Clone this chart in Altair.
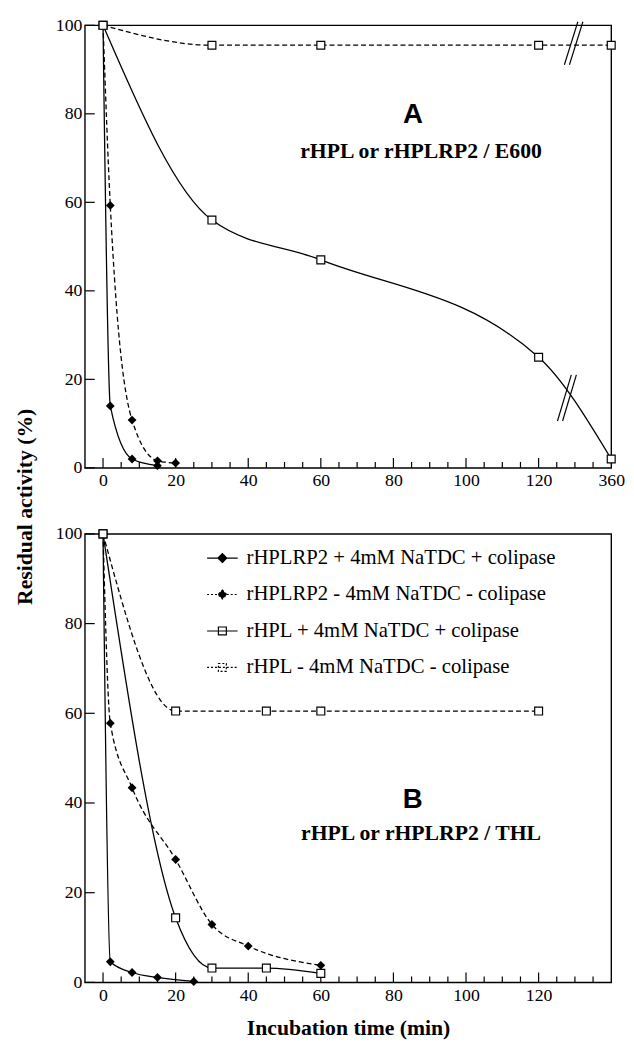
import altair as alt
import pandas as pd

# ---------------- data ----------------
SERIES = [
    "rHPLRP2 + 4mM NaTDC + colipase",
    "rHPLRP2 - 4mM NaTDC - colipase",
    "rHPL + 4mM NaTDC + colipase",
    "rHPL - 4mM NaTDC - colipase",
]
MARKERS = ["diamond", "diamond", "square", "square"]
DASHED = [False, True, False, True]

# Panel A : rHPL or rHPLRP2 / E600 (360 min drawn after an axis break)
a_rp2_plus_t = [0, 2, 8, 15]
a_rp2_plus_v = [100, 14, 2, 0.5]
a_rp2_minus_t = [0, 2, 8, 15, 20]
a_rp2_minus_v = [100, 59.3, 10.8, 1.6, 1.1]
a_hpl_plus_t = [0, 30, 60, 120, 360]
a_hpl_plus_v = [100, 56, 47, 25, 2]
a_hpl_minus_t = [0, 30, 60, 120, 360]
a_hpl_minus_v = [100, 95.5, 95.5, 95.5, 95.5]

# Panel B : rHPL or rHPLRP2 / THL
b_rp2_plus_t = [0, 2, 8, 15, 25]
b_rp2_plus_v = [100, 4.6, 2.2, 1.1, 0.2]
b_rp2_minus_t = [0, 2, 8, 20, 30, 40, 60]
b_rp2_minus_v = [100, 57.8, 43.4, 27.4, 12.9, 8.1, 3.8]
b_hpl_plus_t = [0, 20, 30, 45, 60]
b_hpl_plus_v = [100, 14.4, 3.2, 3.2, 2.0]
b_hpl_minus_t = [0, 20, 45, 60, 120]
b_hpl_minus_v = [100, 60.5, 60.5, 60.5, 60.5]

# axis break: times beyond 120 min are drawn at position 140 (labelled 360)
break_after = 120
break_pos = 140
a_xlabel_values = [0, 20, 40, 60, 80, 100, 120, 140]
b_xlabel_values = [0, 20, 40, 60, 80, 100, 120]
x_major_ticks = [0, 20, 40, 60, 80, 100, 120]
x_minor_ticks = [v for v in range(5, 140, 5) if v % 20]
ytick_values = [0, 20, 40, 60, 80, 100]

# break marks "//" (data units of panel A)
brk_x1 = [127.1, 128.5, 125.2, 126.6]
brk_x2 = [130.8, 132.2, 129.0, 130.4]
brk_y1 = [91.1, 91.1, 10.6, 10.6]
brk_y2 = [100.8, 100.8, 21.0, 21.0]

# panel annotations
letters = ["A", "B"]
letter_x = [85.4, 85.3]
letter_y = [79.6, 40.7]
subtitles = ["rHPL or rHPLRP2 / E600", "rHPL or rHPLRP2 / THL"]
subtitle_x = [87.6, 87.6]
subtitle_y = [71.5, 33.2]

# ---------------- styling ----------------
SERIF = "Liberation Serif"
SANS = "Liberation Sans"
W = 534
HA = 449
HB = 455
XDOM = [-5, 140]
YDOM = [0, 100]
MAJOR = 10   # tick length, px
MINOR = 6

legend_paths = [
    "M-1,0L1,0M0,-0.29L0.29,0L0,0.29L-0.29,0Z",
    "M-1,0L1,0M0,-0.29L0.29,0L0,0.29L-0.29,0Z",
    "M-1,0L1,0M-0.26,-0.26L0.26,-0.26L0.26,0.26L-0.26,0.26Z",
    "M-1,0L1,0M-0.26,-0.26L0.26,-0.26L0.26,0.26L-0.26,0.26Z",
]
legend_fills = ["black", "black", "white", "white"]
legend_dashes = [[1, 0], [2, 2], [1, 0], [2, 2]]


def build_df(series_data):
    rows = []
    for name, marker, dashed, ts, vs in series_data:
        for t, v in zip(ts, vs):
            rows.append(dict(series=name, marker=marker, dashed=int(dashed), t=t,
                             pos=(break_pos if t > break_after else t), v=v))
    return pd.DataFrame(rows)


a_df = build_df([
    (SERIES[0], MARKERS[0], DASHED[0], a_rp2_plus_t, a_rp2_plus_v),
    (SERIES[1], MARKERS[1], DASHED[1], a_rp2_minus_t, a_rp2_minus_v),
    (SERIES[2], MARKERS[2], DASHED[2], a_hpl_plus_t, a_hpl_plus_v),
    (SERIES[3], MARKERS[3], DASHED[3], a_hpl_minus_t, a_hpl_minus_v),
])
b_df = build_df([
    (SERIES[0], MARKERS[0], DASHED[0], b_rp2_plus_t, b_rp2_plus_v),
    (SERIES[1], MARKERS[1], DASHED[1], b_rp2_minus_t, b_rp2_minus_v),
    (SERIES[2], MARKERS[2], DASHED[2], b_hpl_plus_t, b_hpl_plus_v),
    (SERIES[3], MARKERS[3], DASHED[3], b_hpl_minus_t, b_hpl_minus_v),
])


def xs():
    return alt.Scale(domain=XDOM, nice=False, zero=False)


def ys():
    return alt.Scale(domain=YDOM, nice=False)


def x_label_axis(values, label_expr, title):
    kw = dict(orient="bottom", values=values, ticks=False, domain=False, grid=False,
              labelFont=SERIF, labelFontSize=18, labelColor="black", labelPadding=4,
              labelOverlap=False, labelFlush=False)
    if label_expr:
        kw["labelExpr"] = label_expr
    if title:
        kw.update(title=title, titleFont=SERIF, titleFontSize=22, titleFontWeight="bold",
                  titleColor="black", titlePadding=14)
    else:
        kw["title"] = None
    return alt.Axis(**kw)


def y_label_axis(title):
    kw = dict(orient="left", values=ytick_values, ticks=False, domain=False, grid=False,
              labelFont=SERIF, labelFontSize=18, labelColor="black", labelPadding=3)
    if title:
        kw.update(title=title, titleFont=SERIF, titleFontSize=22, titleFontWeight="bold",
                  titleColor="black", titleX=-61, titleY=488, titleAlign="center",
                  titleBaseline="middle")
    else:
        kw["title"] = None
    return alt.Axis(**kw)


def panel(df, h, xvals, xexpr, xtitle, ytitle, idx, extra_fn):
    # every layer carries the same explicit axes, so they merge into one pair
    XA = x_label_axis(xvals, xexpr, xtitle)
    YA = y_label_axis(ytitle)

    def X(field):
        return alt.X(field, scale=xs(), axis=XA)

    def Y(field):
        return alt.Y(field, scale=ys(), axis=YA)

    base = alt.Chart(df)
    solid = base.transform_filter("datum.dashed == 0").mark_line(
        color="black", strokeWidth=1.3, interpolate="monotone").encode(
        x=X("pos:Q"), y=Y("v:Q"), detail="series:N")
    dashed = base.transform_filter("datum.dashed == 1").mark_line(
        color="black", strokeWidth=1.3, strokeDash=[5, 3], interpolate="monotone").encode(
        x=X("pos:Q"), y=Y("v:Q"), detail="series:N")

    # inward tick marks, expressed in data units so they go through the scales
    ypx = (YDOM[1] - YDOM[0]) / h
    xpx = (XDOM[1] - XDOM[0]) / W
    xt = pd.DataFrame({
        "tick": x_major_ticks + x_minor_ticks,
        "y0": [YDOM[0]] * (len(x_major_ticks) + len(x_minor_ticks)),
        "y1": [YDOM[0] + MAJOR * ypx] * len(x_major_ticks)
              + [YDOM[0] + MINOR * ypx] * len(x_minor_ticks),
    })
    yt = pd.DataFrame({
        "tick": ytick_values,
        "x0": [XDOM[0]] * len(ytick_values),
        "x1": [XDOM[0] + MAJOR * xpx] * len(ytick_values),
    })
    xtk = alt.Chart(xt).mark_rule(color="black", strokeWidth=1.2).encode(
        x=X("tick:Q"), y=Y("y0:Q"), y2="y1:Q")
    ytk = alt.Chart(yt).mark_rule(color="black", strokeWidth=1.2).encode(
        y=Y("tick:Q"), x=X("x0:Q"), x2="x1:Q")

    dia = base.transform_filter("datum.marker == 'diamond'").mark_point(
        shape="diamond", filled=True, color="black", size=80, opacity=1
    ).encode(x=X("pos:Q"), y=Y("v:Q"))
    sq = base.transform_filter("datum.marker == 'square'").mark_point(
        shape="square", filled=True, fill="white", stroke="black", strokeWidth=1.2,
        size=64, opacity=1
    ).encode(x=X("pos:Q"), y=Y("v:Q"))
    ann = pd.DataFrame({"x": [letter_x[idx]], "y": [letter_y[idx]], "text": [letters[idx]]})
    sub = pd.DataFrame({"x": [subtitle_x[idx]], "y": [subtitle_y[idx]], "text": [subtitles[idx]]})
    letter = alt.Chart(ann).mark_text(font=SANS, fontSize=28, fontWeight="bold",
                                      color="black", baseline="middle").encode(
        x=X("x:Q"), y=Y("y:Q"), text="text:N")
    subt = alt.Chart(sub).mark_text(font=SERIF, fontSize=22, fontWeight="bold",
                                    color="black", baseline="middle").encode(
        x=X("x:Q"), y=Y("y:Q"), text="text:N")
    layers = [solid, dashed, xtk, ytk, dia, sq, letter, subt] + extra_fn(X, Y)
    return alt.layer(*layers).properties(width=W, height=h)


def breaks_layer(X, Y):
    brk_df = pd.DataFrame({"x1": brk_x1, "x2": brk_x2, "y1": brk_y1, "y2": brk_y2})
    return [alt.Chart(brk_df).mark_rule(color="black", strokeWidth=1.2).encode(
        x=X("x1:Q"), x2="x2:Q", y=Y("y1:Q"), y2="y2:Q")]


leg = alt.Legend(orient="none", legendX=123, legendY=8, title=None, symbolSize=961,
                 symbolStrokeWidth=1.2, symbolOpacity=1,
                 labelFont=SERIF, labelFontSize=21, labelColor="black", labelOffset=8,
                 rowPadding=10, padding=0, labelLimit=500)


def legend_layer(X, Y):
    return [alt.Chart(b_df).mark_point(
        filled=True, opacity=0, stroke="black", strokeWidth=1.2
    ).encode(
        x=X("pos:Q"), y=Y("v:Q"),
        shape=alt.Shape("series:N", scale=alt.Scale(domain=SERIES, range=legend_paths),
                        legend=leg),
        fill=alt.Fill("series:N", scale=alt.Scale(domain=SERIES, range=legend_fills),
                      legend=leg),
        strokeDash=alt.StrokeDash("series:N",
                                  scale=alt.Scale(domain=SERIES, range=legend_dashes),
                                  legend=leg),
    )]


panelA = panel(a_df, HA, a_xlabel_values, "datum.value == 140 ? '360' : datum.label",
               None, "Residual activity (%)", 0, breaks_layer)
panelB = panel(b_df, HB, b_xlabel_values, None, "Incubation time (min)", None, 1,
               legend_layer)

chart = alt.vconcat(panelA, panelB, spacing=67, bounds="flush").resolve_legend(
    shape="independent", fill="independent", strokeDash="independent"
).properties(
    padding={"left": 5, "top": 0, "right": 0, "bottom": 0}
).configure_view(stroke="black", strokeWidth=1.4)

chart.save("out.html", embed_options={"renderer": "svg", "actions": False})
